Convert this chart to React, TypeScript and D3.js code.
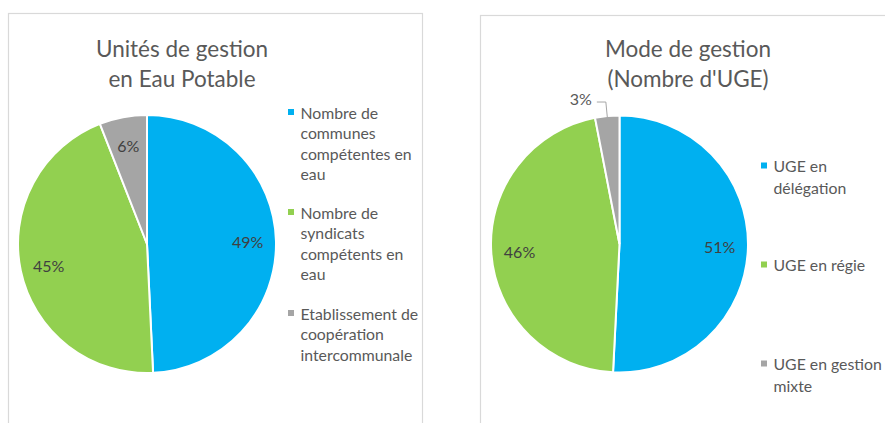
import React from "react";
import * as d3 from "d3";

const leftCategories = [
  "Nombre de communes compétentes en eau",
  "Nombre de syndicats compétents en eau",
  "Etablissement de coopération intercommunale",
];
const leftValues = [49.25, 44.8, 5.95];
const leftLegendLines = [
  ["Nombre de", "communes", "compétentes en", "eau"],
  ["Nombre de", "syndicats", "compétents en", "eau"],
  ["Etablissement de", "coopération", "intercommunale"],
];
const leftTitle = ["Unités de gestion", "en Eau Potable"];

const rightCategories = ["UGE en délégation", "UGE en régie", "UGE en gestion mixte"];
const rightValues = [50.8, 46.15, 3.05];
const rightLegendLines = [["UGE en", "délégation"], ["UGE en régie"], ["UGE en gestion", "mixte"]];
const rightTitle = ["Mode de gestion", "(Nombre d'UGE)"];

const colors = ["#00B0F0", "#92D050", "#A5A5A5"];
const textColor = "#595959";
const FONT = "Lato, 'Open Sans', sans-serif";

type PieProps = {
  cx: number;
  cy: number;
  r: number;
  values: number[];
  outsideSmall?: boolean;
};

function Pie({ cx, cy, r, values, outsideSmall }: PieProps) {
  const total = d3.sum(values);
  const arcs = d3.pie<number>().sort(null).value((d) => d)(values);
  const arc = d3.arc<d3.PieArcDatum<number>>().innerRadius(0).outerRadius(r);
  const labelArc = d3
    .arc<d3.PieArcDatum<number>>()
    .innerRadius(r * 0.78)
    .outerRadius(r * 0.78);
  return (
    <g transform={`translate(${cx},${cy})`}>
      {arcs.map((a, i) => (
        <path key={i} d={arc(a) || ""} fill={colors[i]} stroke="#fff" strokeWidth={2} />
      ))}
      {arcs.map((a, i) => {
        const pct = Math.round((a.value / total) * 100) + "%";
        if (outsideSmall && a.value / total < 0.05) {
          const mid = (a.startAngle + a.endAngle) / 2;
          const p0 = [Math.sin(mid) * (r - 1), -Math.cos(mid) * (r - 1)];
          const p1 = [Math.sin(mid) * r * 1.11, -Math.cos(mid) * r * 1.11];
          const p2 = [p1[0] - 9, p1[1]];
          return (
            <g key={"l" + i}>
              <polyline
                points={`${p0[0]},${p0[1]} ${p1[0]},${p1[1]} ${p2[0]},${p2[1]}`}
                fill="none"
                stroke="#A6A6A6"
                strokeWidth={1}
              />
              <text
                x={p2[0] - 5}
                y={p2[1] - 4}
                textAnchor="end"
                dominantBaseline="central"
                fontSize={16}
                fill={textColor}
                fontFamily={FONT}
              >
                {pct}
              </text>
            </g>
          );
        }
        const [lx, ly] = labelArc.centroid(a);
        return (
          <text
            key={"l" + i}
            x={lx}
            y={ly}
            textAnchor="middle"
            dominantBaseline="central"
            fontSize={16}
            fill={"#404040"}
            fontFamily={FONT}
          >
            {pct}
          </text>
        );
      })}
    </g>
  );
}

function Title({ x, y, lines }: { x: number; y: number; lines: string[] }) {
  return (
    <text x={x} y={y} textAnchor="middle" fontSize={22.5} fill={textColor} fontFamily={FONT}>
      {lines.map((l, i) => (
        <tspan key={i} x={x} dy={i === 0 ? 0 : 30} dominantBaseline="central">
          {l}
        </tspan>
      ))}
    </text>
  );
}

function Legend({
  x,
  ys,
  lines,
  lineH,
}: {
  x: number;
  ys: number[];
  lines: string[][];
  lineH: number;
}) {
  return (
    <g>
      {lines.map((ls, i) => (
        <g key={i}>
          <rect x={x - 12.5} y={ys[i] - 3} width={6} height={6} fill={colors[i]} />
          {ls.map((l, j) => (
            <text
              key={j}
              x={x}
              y={ys[i] + j * lineH}
              dominantBaseline="central"
              fontSize={15.8}
              fill={textColor}
              fontFamily={FONT}
            >
              {l}
            </text>
          ))}
        </g>
      ))}
    </g>
  );
}

export default function App() {
  return (
    <svg
      width={885}
      height={423}
      style={{ position: "absolute", left: 0, top: 0, display: "block", background: "#fff" }}
    >
      <rect x={8.5} y={13.5} width={414} height={430} fill="#fff" stroke="#D9D9D9" strokeWidth={1.2} />
      <rect x={480.5} y={15.5} width={430} height={430} fill="#fff" stroke="#D9D9D9" strokeWidth={1.2} />
      <Title x={182} y={48} lines={leftTitle} />
      <Title x={688} y={48} lines={rightTitle} />
      <Pie cx={147} cy={244} r={129} values={leftValues} />
      <Pie cx={619.5} cy={244} r={128.5} values={rightValues} outsideSmall />
      <Legend x={300.5} ys={[112, 212, 313]} lines={leftLegendLines} lineH={20.5} />
      <Legend x={773.5} ys={[165.5, 264.5, 363.5]} lines={rightLegendLines} lineH={22} />
      <desc>{leftCategories.join(";") + "|" + rightCategories.join(";")}</desc>
    </svg>
  );
}
